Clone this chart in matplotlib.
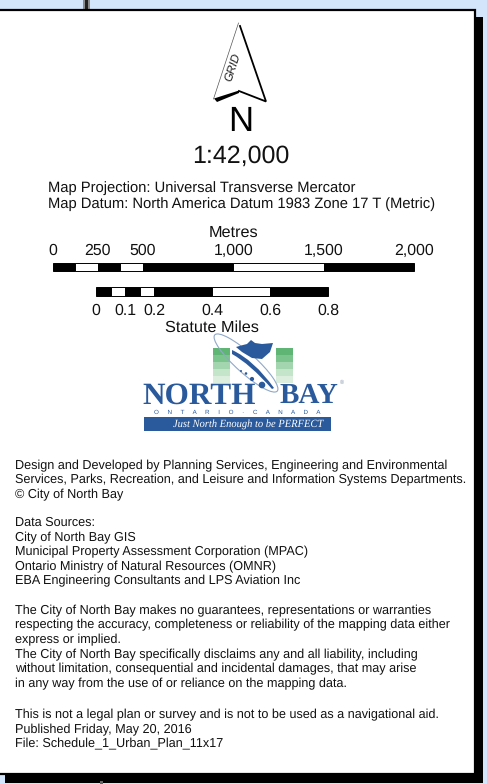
import matplotlib
matplotlib.use("Agg")
import matplotlib.pyplot as plt
from matplotlib.patches import Polygon, Rectangle, Ellipse, PathPatch
from matplotlib.path import Path

plt.rcParams['font.family'] = ['Liberation Sans', 'DejaVu Sans']
plt.rcParams['text.hinting'] = 'no_hinting'
plt.rcParams['text.hinting_factor'] = 8

# scale bars
metres_breaks = [0, 125, 250, 375, 500, 1000, 1500, 2000]
metres_labels = [0, 250, 500, 1000, 1500, 2000]
miles_breaks = [0, 0.05, 0.1, 0.15, 0.2, 0.4, 0.6, 0.8]
miles_labels = [0, 0.1, 0.2, 0.4, 0.6, 0.8]

projection_lines = [
    "Map Projection: Universal Transverse Mercator",
    "Map Datum: North America Datum 1983 Zone 17 T (Metric)",
]
design_lines = [
    "Design and Developed by Planning Services, Engineering and Environmental",
    "Services, Parks, Recreation, and Leisure and Information Systems Departments.",
    "© City of North Bay",
]
source_lines = [
    "Data Sources:",
    "City of North Bay GIS",
    "Municipal Property Assessment Corporation (MPAC)",
    "Ontario Ministry of Natural Resources (OMNR)",
    "EBA Engineering Consultants and LPS Aviation Inc",
]
disclaimer_lines = [
    "The City of North Bay makes no guarantees, representations or warranties",
    "respecting the accuracy, completeness or reliability of the mapping data either",
    "express or implied.",
    "The City of North Bay specifically disclaims any and all liability, including",
    "without limitation, consequential and incidental damages, that may arise",
    "in any way from the use of or reliance on the mapping data.",
]
footer_lines = [
    "This is not a legal plan or survey and is not to be used as a navigational aid.",
    "Published Friday, May 20, 2016",
    "File: Schedule_1_Urban_Plan_11x17",
]

W, H = 487, 784
BLUE = "#2a5a9c"
GREENS = ["#5fb574", "#7cc48d", "#a3d6ae", "#c5e5cb", "#dcefdf"]

fig = plt.figure(figsize=(W / 100, H / 100), dpi=100, facecolor="#d3e5fb")
ax = fig.add_axes([0, 0, 1, 1])
ax.set_xlim(0, W)
ax.set_ylim(H, 0)
ax.axis("off")

# panel, shadow and the bits of map showing round it
ax.add_patch(Rectangle((83, 0), 7, 10, fc="#8c8c8c", ec="none"))
ax.add_patch(Rectangle((85, 0), 3, 10, fc="#222222", ec="none"))
ax.add_patch(Rectangle((5, 17), 478, 766, fc="black", ec="none"))
ax.add_patch(Rectangle((-3, 10), 478, 764, fc="white", ec="black", lw=1.6))

# north arrow
ax.plot([238.5, 213.5], [23, 99], color="#555555", lw=0.5)
ax.plot([240, 266, 239], [26, 101.5, 91], color="black", lw=1.3, solid_joinstyle="miter")
ax.add_patch(Polygon([(217, 102), (239, 93), (239, 90.5), (214, 98.5)], closed=True, fc="black", ec="none"))
ax.text(233, 67, "GRID", fontsize=8.4, rotation=72, style="italic", color="#222222",
        ha="center", va="center")
ax.text(241, 122, "N", fontsize=25, ha="center", va="center")
ax.text(241, 156, "1:42,000", fontsize=18, ha="center", va="center", color="#111111")


def text_block(lines, x, y_top, step, size):
    for i, line in enumerate(lines):
        ax.text(x, y_top + i * step, line, fontsize=size, ha="left", va="center", color="#111111")


text_block(projection_lines, 48.5, 188, 16.5, 10.6)


def scale_bar(breaks, x0, px_per_unit, top, height):
    for i in range(len(breaks) - 1):
        left = x0 + breaks[i] * px_per_unit
        width = (breaks[i + 1] - breaks[i]) * px_per_unit
        ax.add_patch(Rectangle((left, top), width, height, fc="black" if i % 2 == 0 else "white",
                               ec="black", lw=0.7))


m_scale = (414 - 52.5) / metres_breaks[-1]
scale_bar(metres_breaks, 52.5, m_scale, 263, 8.3)
ax.text(233, 232.5, "Metres", fontsize=11.7, ha="center", va="center", color="#111111")
for v in metres_labels:
    ax.text(52.5 + v * m_scale, 250.5, f"{v:,}", fontsize=11.4, ha="center", va="center", color="#111111")

mi_scale = (328 - 96) / miles_breaks[-1]
scale_bar(miles_breaks, 96, mi_scale, 287, 8.7)
for v in miles_labels:
    ax.text(96 + v * mi_scale, 310.5, f"{v:g}", fontsize=11.4, ha="center", va="center", color="#111111")
ax.text(212, 327.5, "Statute Miles", fontsize=11.7, ha="center", va="center", color="#111111")

# logo
for x_left in (213, 276):
    for i, shade in enumerate(GREENS):
        ax.add_patch(Rectangle((x_left, 348 + i * 7), 17, 7, fc=shade, ec="none"))
ax.add_patch(Ellipse((246, 363), 84, 20, angle=42, fc="none", ec="#8fa8c8", lw=0.8))
ax.add_patch(PathPatch(Path([(232, 350), (254, 360), (274, 388), (272, 389), (250, 364), (232, 354), (232, 350)],
                            [Path.MOVETO, Path.CURVE3, Path.CURVE3, Path.LINETO, Path.CURVE3, Path.CURVE3, Path.CLOSEPOLY]),
                       fc=BLUE, ec="none"))
ax.add_patch(Polygon([(236, 347), (243, 345), (247, 344), (251, 340), (255, 343), (262, 344), (273, 343), (270, 352),
                      (262, 359), (252, 358), (242, 352)], closed=True, fc=BLUE, ec="none"))
for cx, cy, r in [(241, 371, 1), (246, 373.5, 1.3), (252, 379, 2.1), (262, 385, 3.3)]:
    ax.add_patch(Ellipse((cx, cy), 2 * r, 2 * r, fc=BLUE, ec="none"))
ax.text(199, 396, "NORTH", fontsize=22.5, family="Liberation Serif", weight="bold", color=BLUE,
        ha="center", va="center")
ax.text(309, 396, "BAY", fontsize=21, family="Liberation Serif", weight="bold", color=BLUE,
        ha="center", va="center")
ax.text(342, 382, "®", fontsize=4, color="#7f8fa8", ha="center", va="center")
ax.text(237.5, 412, "O     N     T     A     R     I     O     ·     C     A     N     A     D     A", fontsize=4.5,
        color=BLUE, ha="center", va="center")
ax.add_patch(Rectangle((144, 417), 187, 14, fc=BLUE, ec="none"))
ax.text(248.5, 424, "Just North Enough to be PERFECT", fontsize=7.6, family="Liberation Serif",
        style="italic", color="white", ha="center", va="center")

text_block(design_lines, 15, 465.5, 14.6, 9.1)
text_block(source_lines, 15, 523, 14.6, 9.1)
text_block(disclaimer_lines, 15, 610.5, 14.7, 9.1)
text_block(footer_lines, 15, 714.5, 15, 9.1)

ax.add_patch(Rectangle((100, 781), 3, 3, fc="#666666", ec="none"))

fig.savefig("out.png", dpi=100, facecolor=fig.get_facecolor())
